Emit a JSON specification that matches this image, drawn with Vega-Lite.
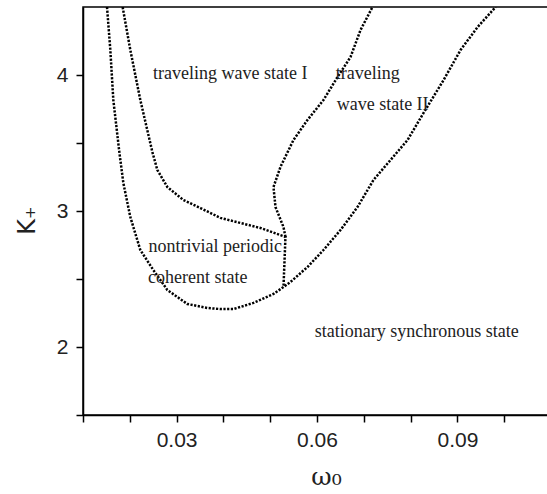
{
  "$schema": "https://vega.github.io/schema/vega-lite/v6.json",
  "autosize": "none",
  "padding": {"left": 83, "top": 7, "right": 0, "bottom": 79},
  "width": 468,
  "height": 408,
  "background": "white",
  "config": {
    "view": {"stroke": "black", "strokeWidth": 1.5},
    "axis": {
      "domainColor": "black", "domainWidth": 1.5, "tickColor": "black", "tickWidth": 1.5,
      "tickSize": 7, "labelFont": "Liberation Sans", "labelFontSize": 21, "labelColor": "#222",
      "grid": false, "titleFontWeight": "normal", "titleColor": "#222"
    }
  },
  "datasets": {
    "curves": [
      {"s": "A", "o": 1, "x": 0.01513, "y": 4.5},
      {"s": "A", "o": 2, "x": 0.01584, "y": 4.184},
      {"s": "A", "o": 3, "x": 0.01648, "y": 3.816},
      {"s": "A", "o": 4, "x": 0.01776, "y": 3.434},
      {"s": "A", "o": 5, "x": 0.01862, "y": 3.206},
      {"s": "A", "o": 6, "x": 0.02011, "y": 2.956},
      {"s": "A", "o": 7, "x": 0.02225, "y": 2.713},
      {"s": "A", "o": 8, "x": 0.02503, "y": 2.566},
      {"s": "A", "o": 9, "x": 0.02803, "y": 2.419},
      {"s": "A", "o": 10, "x": 0.0323, "y": 2.316},
      {"s": "A", "o": 11, "x": 0.03658, "y": 2.287},
      {"s": "A", "o": 12, "x": 0.03936, "y": 2.279},
      {"s": "A", "o": 13, "x": 0.04214, "y": 2.279},
      {"s": "A", "o": 14, "x": 0.04642, "y": 2.324},
      {"s": "A", "o": 15, "x": 0.0507, "y": 2.39},
      {"s": "A", "o": 16, "x": 0.05284, "y": 2.441},
      {"s": "A", "o": 17, "x": 0.05433, "y": 2.478},
      {"s": "A", "o": 18, "x": 0.05796, "y": 2.588},
      {"s": "A", "o": 19, "x": 0.06138, "y": 2.713},
      {"s": "A", "o": 20, "x": 0.06502, "y": 2.86},
      {"s": "A", "o": 21, "x": 0.06865, "y": 3.029},
      {"s": "A", "o": 22, "x": 0.07207, "y": 3.228},
      {"s": "A", "o": 23, "x": 0.07935, "y": 3.522},
      {"s": "A", "o": 24, "x": 0.08277, "y": 3.721},
      {"s": "A", "o": 25, "x": 0.08705, "y": 3.963},
      {"s": "A", "o": 26, "x": 0.09068, "y": 4.184},
      {"s": "A", "o": 27, "x": 0.09432, "y": 4.353},
      {"s": "A", "o": 28, "x": 0.09817, "y": 4.5},
      {"s": "B", "o": 1, "x": 0.01847, "y": 4.5},
      {"s": "B", "o": 2, "x": 0.02011, "y": 4.184},
      {"s": "B", "o": 3, "x": 0.02225, "y": 3.816},
      {"s": "B", "o": 4, "x": 0.02482, "y": 3.434},
      {"s": "B", "o": 5, "x": 0.02589, "y": 3.301},
      {"s": "B", "o": 6, "x": 0.02803, "y": 3.176},
      {"s": "B", "o": 7, "x": 0.03145, "y": 3.081},
      {"s": "B", "o": 8, "x": 0.03508, "y": 3.022},
      {"s": "B", "o": 9, "x": 0.03936, "y": 2.949},
      {"s": "B", "o": 10, "x": 0.04364, "y": 2.912},
      {"s": "B", "o": 11, "x": 0.04791, "y": 2.875},
      {"s": "B", "o": 12, "x": 0.05326, "y": 2.809},
      {"s": "B", "o": 13, "x": 0.05305, "y": 2.625},
      {"s": "B", "o": 14, "x": 0.05284, "y": 2.441},
      {"s": "C", "o": 1, "x": 0.05326, "y": 2.809},
      {"s": "C", "o": 2, "x": 0.05284, "y": 2.882},
      {"s": "C", "o": 3, "x": 0.05113, "y": 3.029},
      {"s": "C", "o": 4, "x": 0.0507, "y": 3.176},
      {"s": "C", "o": 5, "x": 0.05219, "y": 3.324},
      {"s": "C", "o": 6, "x": 0.05497, "y": 3.522},
      {"s": "C", "o": 7, "x": 0.05796, "y": 3.669},
      {"s": "C", "o": 8, "x": 0.06138, "y": 3.816},
      {"s": "C", "o": 9, "x": 0.06438, "y": 3.985},
      {"s": "C", "o": 10, "x": 0.06716, "y": 4.132},
      {"s": "C", "o": 11, "x": 0.0693, "y": 4.331},
      {"s": "C", "o": 12, "x": 0.07186, "y": 4.5}
    ],
    "labels": [
      {"t": "traveling wave state I", "x": 0.02497, "y": 3.971},
      {"t": "traveling", "x": 0.064, "y": 3.971},
      {"t": "wave state II", "x": 0.0642, "y": 3.743},
      {"t": "nontrivial periodic", "x": 0.024, "y": 2.701},
      {"t": "coherent state", "x": 0.0239, "y": 2.473},
      {"t": "stationary synchronous state", "x": 0.0595, "y": 2.076}
    ]
  },
  "layer": [
    {
      "data": {"name": "curves"},
      "mark": {"type": "line", "color": "black", "strokeWidth": 2.5, "strokeDash": [2.2, 1.5], "strokeCap": "butt", "clip": true},
      "encoding": {
        "x": {
          "field": "x", "type": "quantitative",
          "scale": {"domain": [0.01, 0.11], "nice": false, "zero": false},
          "axis": {
            "values": [0.01, 0.02, 0.03, 0.04, 0.05, 0.06, 0.07, 0.08, 0.09, 0.1, 0.11],
            "format": ".2f",
            "labelExpr": "indexof(['0.03','0.06','0.09'], datum.label) >= 0 ? datum.label : ''",
            "labelPadding": 7,
            "title": "ω₀", "titleFont": "DejaVu Serif", "titleFontSize": 25,
            "titleX": 243, "titleY": 69, "titleBaseline": "alphabetic", "titleAlign": "center"
          }
        },
        "y": {
          "field": "y", "type": "quantitative",
          "scale": {"domain": [1.5, 4.5], "nice": false, "zero": false},
          "axis": {
            "values": [1.5, 2, 2.5, 3, 3.5, 4],
            "labelExpr": "(datum.value == 2 || datum.value == 3 || datum.value == 4) ? format(datum.value, 'd') : ''",
            "labelPadding": 8,
            "title": "K₊", "titleFont": "DejaVu Sans", "titleFontSize": 24,
            "titleX": -56, "titleY": 213, "titleBaseline": "middle", "titleAlign": "center"
          }
        },
        "detail": {"field": "s"},
        "order": {"field": "o"}
      }
    },
    {
      "data": {"name": "labels"},
      "mark": {"type": "text", "font": "Liberation Serif", "fontSize": 18, "align": "left", "baseline": "alphabetic", "color": "#222"},
      "encoding": {
        "x": {"field": "x", "type": "quantitative"},
        "y": {"field": "y", "type": "quantitative"},
        "text": {"field": "t"}
      }
    }
  ]
}
